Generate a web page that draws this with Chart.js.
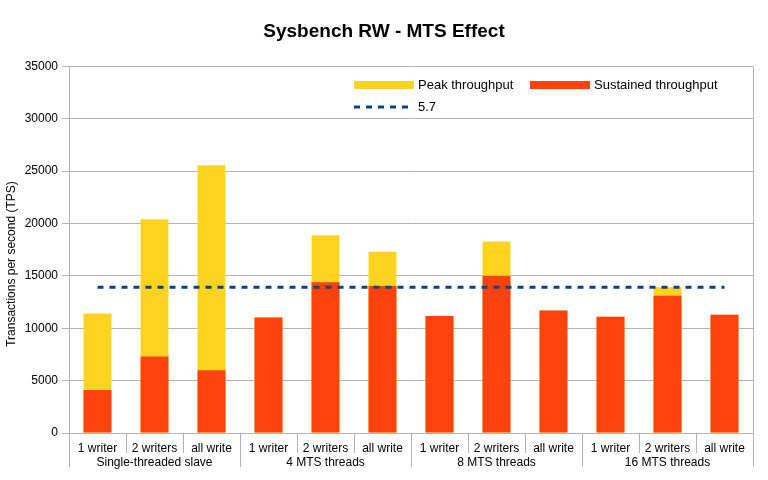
<!DOCTYPE html>
<html><head><meta charset="utf-8">
<script src="https://cdn.jsdelivr.net/npm/chart.js@4/dist/chart.umd.min.js"></script>
<style>html,body{margin:0;padding:0;background:#fff}</style>
</head><body>
<canvas id="c" width="768" height="480"></canvas>
<script>
const categories = ['1 writer','2 writers','all write','1 writer','2 writers','all write','1 writer','2 writers','all write','1 writer','2 writers','all write'];
const groups = ['Single-threaded slave','4 MTS threads','8 MTS threads','16 MTS threads'];
const groupSize = 3;
const peakThroughput = [11400, 20400, 25550, 11030, 18880, 17290, 11160, 18280, 11700, 11090, 13920, 11280];
const sustainedThroughput = [4100, 7310, 6000, 11030, 14400, 14020, 11160, 15000, 11700, 11090, 13090, 11280];
const baseline57 = [13900, 13900, 13900, 13900, 13900, 13900, 13900, 13900, 13900, 13900, 13900, 13900];
const yMin = 0, yMax = 35000, yStep = 5000;
const yTitle = 'Transactions per second (TPS)';

const COL_PEAK = '#ffd320', COL_SUST = '#ff420e', COL_LINE = '#004586', GRID = '#b3b3b3';
const FONT = '"Liberation Sans", Arial, sans-serif';
Chart.defaults.font.family = FONT;
Chart.defaults.font.size = 12;
Chart.defaults.color = '#000';

const extras = {
  id: 'extras',
  afterDraw(chart) {
    const ctx = chart.ctx, x = chart.scales.x, ca = chart.chartArea;
    ctx.save();
    // right border
    ctx.strokeStyle = GRID; ctx.lineWidth = 1;
    ctx.beginPath(); ctx.moveTo(Math.round(ca.right) + 0.5, ca.top); ctx.lineTo(Math.round(ca.right) + 0.5, ca.bottom); ctx.stroke();
    // group separators + labels
    const sepBottom = ca.bottom + 34;
    for (let g = 0; g <= groups.length; g++) {
      const px = Math.round(x.getPixelForValue(g * groupSize - 0.5)) + 0.5;
      ctx.beginPath(); ctx.moveTo(px, ca.bottom); ctx.lineTo(px, sepBottom); ctx.stroke();
    }
    ctx.fillStyle = '#000'; ctx.font = '12px ' + FONT;
    ctx.textAlign = 'center'; ctx.textBaseline = 'middle';
    groups.forEach((name, g) => {
      const a = x.getPixelForValue(g * groupSize - 0.5), b = x.getPixelForValue(g * groupSize + groupSize - 0.5);
      ctx.fillText(name, (a + b) / 2, ca.bottom + 30);
    });
    // y axis title
    ctx.save();
    ctx.translate(12, 264); ctx.rotate(-Math.PI / 2);
    ctx.fillText(yTitle, 0, 0);
    ctx.restore();
    // legend
    const lx = 354, ly = 85;
    ctx.textAlign = 'left'; ctx.font = '13px ' + FONT;
    const items = [
      {type: 'box', color: COL_PEAK, text: chart.data.datasets[0].label, x: lx, y: ly},
      {type: 'box', color: COL_SUST, text: chart.data.datasets[1].label, x: 530, y: ly},
      {type: 'line', color: COL_LINE, text: chart.data.datasets[2].label, x: lx, y: ly + 22}
    ];
    items.forEach(it => {
      if (it.type === 'box') {
        ctx.fillStyle = it.color; ctx.fillRect(it.x, it.y - 4, 60, 8);
      } else {
        ctx.strokeStyle = it.color; ctx.lineWidth = 3; ctx.setLineDash([6, 6]);
        ctx.beginPath(); ctx.moveTo(it.x, it.y); ctx.lineTo(it.x + 60, it.y); ctx.stroke();
        ctx.setLineDash([]);
      }
      ctx.fillStyle = '#000';
      ctx.fillText(it.text, it.x + 64, it.y);
    });
    ctx.restore();
  }
};

new Chart(document.getElementById('c'), {
  data: {
    labels: categories,
    datasets: [
      {type: 'bar', label: 'Peak throughput', data: peakThroughput, backgroundColor: COL_PEAK, order: 3,
       barPercentage: 0.49, categoryPercentage: 1},
      {type: 'bar', label: 'Sustained throughput', data: sustainedThroughput, backgroundColor: COL_SUST, order: 2,
       barPercentage: 0.49, categoryPercentage: 1},
      {type: 'line', label: '5.7', data: baseline57, borderColor: COL_LINE, borderWidth: 3, borderDash: [6, 6],
       pointRadius: 0, fill: false, order: 1}
    ]
  },
  options: {
    responsive: false, animation: false, devicePixelRatio: 1,
    layout: {padding: {left: 15, right: 15, top: 0, bottom: 0}},
    plugins: {
      legend: {display: false},
      tooltip: {enabled: false},
      title: {display: true, text: 'Sysbench RW - MTS Effect', color: '#000',
              font: {size: 19, weight: 'bold'}, padding: {top: 20, bottom: 23.5}}
    },
    scales: {
      x: {
        stacked: true,
        grid: {offset: true, drawOnChartArea: false, tickLength: 20, color: GRID},
        border: {color: GRID},
        ticks: {padding: -12, maxRotation: 0, autoSkip: false, color: '#000'},
        afterFit(s) { s.height = 47; }
      },
      y: {
        stacked: false, min: yMin, max: yMax,
        ticks: {stepSize: yStep, padding: 4, color: '#000', callback: v => String(v)},
        grid: {color: GRID, tickLength: 7},
        border: {color: GRID},
        afterFit(s) { s.width = 54; }
      }
    }
  },
  plugins: [extras]
});
</script>
</body></html>
